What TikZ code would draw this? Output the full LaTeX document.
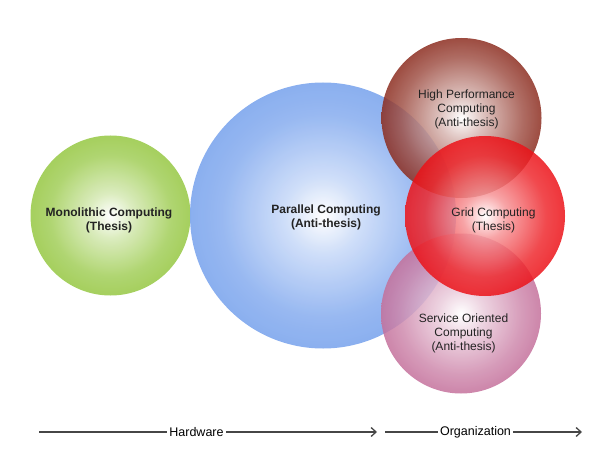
\documentclass[tikz,border=0pt]{standalone}
\usepackage{fontspec}
\setmainfont{Liberation Sans}
\usetikzlibrary{arrows.meta}
\definecolor{cgreen}{RGB}{160,205,85}
\definecolor{cblue}{RGB}{128,168,238}
\definecolor{cbrown}{RGB}{140,45,32}
\definecolor{cred}{RGB}{236,18,24}
\definecolor{cpink}{RGB}{196,112,155}
\definecolor{txt}{RGB}{35,35,35}
\definecolor{lin}{RGB}{70,70,70}
\pgfdeclareradialshading{shgreen}{\pgfpointorigin}{color(0bp)=(white); color(7bp)=(cgreen!40!white); color(19bp)=(cgreen!88!white); color(25bp)=(cgreen); color(50bp)=(cgreen)}
\pgfdeclareradialshading{shblue}{\pgfpointorigin}{color(0bp)=(white); color(7bp)=(cblue!40!white); color(19bp)=(cblue!88!white); color(25bp)=(cblue); color(50bp)=(cblue)}
\pgfdeclareradialshading{shbrown}{\pgfpointorigin}{color(0bp)=(white); color(7bp)=(cbrown!35!white); color(19bp)=(cbrown!82!white); color(25bp)=(cbrown); color(50bp)=(cbrown)}
\pgfdeclareradialshading{shred}{\pgfpointorigin}{color(0bp)=(white); color(7bp)=(cred!45!white); color(19bp)=(cred!90!white); color(25bp)=(cred); color(50bp)=(cred)}
\pgfdeclareradialshading{shpink}{\pgfpointorigin}{color(0bp)=(white); color(7bp)=(cpink!35!white); color(19bp)=(cpink!82!white); color(25bp)=(cpink); color(50bp)=(cpink)}
\tikzset{
  lbl/.style={align=center, text=txt, font=\fontsize{12}{14}\selectfont},
  blbl/.style={lbl, font=\fontsize{12}{14}\selectfont\bfseries},
  axis/.style={draw=lin, line width=1.3pt},
  axisarrow/.style={axis, -{Straight Barb[length=5pt,width=9pt,line width=1.3pt]}},
  axlbl/.style={text=black, font=\fontsize{12.5}{14}\selectfont, inner sep=2pt}
}
\begin{document}
\begin{tikzpicture}[x=1pt,y=-1pt]
\useasboundingbox (0,0) rectangle (609,454);
% circles
\shade[shading=shgreen, opacity=0.95] (110.5,215.5) circle (80);
\shade[shading=shblue, opacity=0.92] (323,215.5) circle (133);
\shade[shading=shbrown, opacity=0.85] (461.5,118) circle (80);
\shade[shading=shpink, opacity=0.85] (461,313.5) circle (80);
\shade[shading=shred, opacity=0.85] (485,216) circle (80);
% labels
\node[blbl] (mono) at (109,220) {Monolithic Computing\\(Thesis)};
\node[blbl] (par) at (326,217) {Parallel Computing\\(Anti-thesis)};
\node[lbl] (hpc) at (466.5,109.5) {High Performance\\Computing\\(Anti-thesis)};
\node[lbl] (grid) at (493.5,220) {Grid Computing\\(Thesis)};
\node[lbl] (soc) at (463.5,333) {Service Oriented\\Computing\\(Anti-thesis)};
% axis
\node[axlbl] (hw) at (196.5,432) {Hardware};
\node[axlbl] (org) at (475.5,432) {Organization};
\coordinate (h0) at (39,432);
\coordinate (h1) at (377,432);
\coordinate (o0) at (385,432);
\coordinate (o1) at (582,432);
\draw[axis] (h0) -- (hw.west);
\draw[axisarrow] (hw.east) -- (h1);
\draw[axis] (o0) -- (org.west);
\draw[axisarrow] (org.east) -- (o1);
\end{tikzpicture}
\end{document}
